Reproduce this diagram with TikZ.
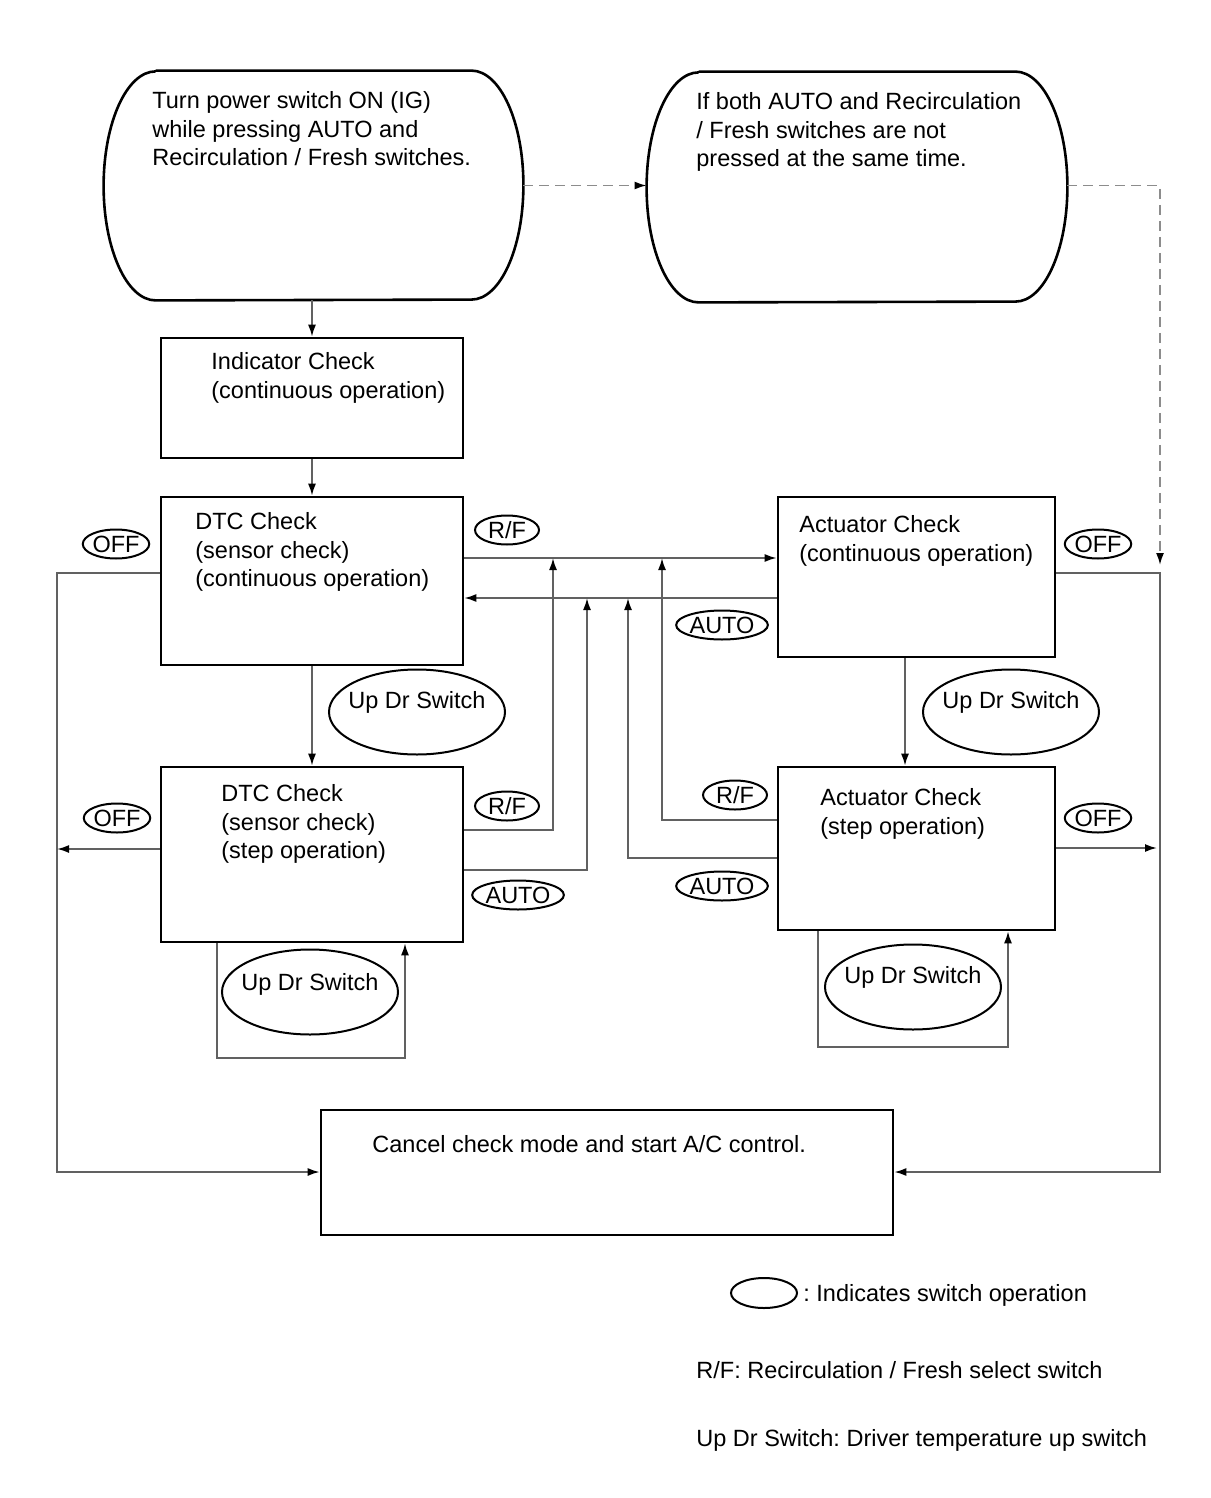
\documentclass[tikz,border=0pt]{standalone}
\usepackage{fontspec}
\setmainfont{Liberation Sans}
\usetikzlibrary{arrows.meta,shapes.geometric,fit}

\begin{document}
\frenchspacing
\begin{tikzpicture}[x=0.5pt,y=-0.5pt,
  font=\fontsize{11.75}{14.25}\selectfont,
  box/.style={draw,line width=1.3pt,inner sep=0pt},
  txt/.style={anchor=north west,inner sep=0pt,align=left},
  conn/.style={draw=black!62,line width=0.9pt,-{Latex[length=6pt,width=4pt,color=black]}},
  dashconn/.style={conn,draw=black!45,dash pattern=on 5pt off 3pt},
  sw/.style={draw,ellipse,line width=1pt,inner sep=0pt,minimum width=32pt,minimum height=14.5pt},
  updr/.style={draw,ellipse,line width=1pt,inner sep=0pt,minimum width=88pt,minimum height=42.5pt}]

\useasboundingbox (0,0) rectangle (1210,1498);

% rounded start / alternative shapes
\node[fit={(104,71) (523,300)},inner sep=0pt] (start) {};
\node[fit={(647,72) (1067,302)},inner sep=0pt] (alt) {};
\draw[line width=1.3pt] ([shift={(52,0)}]start.north west) -- ([shift={(-52,0)}]start.north east)
  arc[start angle=90,end angle=-90,x radius=26pt,y radius=57.25pt]
  -- ([shift={(52,0)}]start.south west)
  arc[start angle=270,end angle=90,x radius=26pt,y radius=57.25pt];
\draw[line width=1.3pt] ([shift={(52,0)}]alt.north west) -- ([shift={(-52,0)}]alt.north east)
  arc[start angle=90,end angle=-90,x radius=26pt,y radius=57.5pt]
  -- ([shift={(52,0)}]alt.south west)
  arc[start angle=270,end angle=90,x radius=26pt,y radius=57.5pt];
\node[txt] at (152,91.5) {Turn power switch ON (IG)\\while pressing AUTO and\\Recirculation / Fresh switches.};
\node[txt] at (696,92.5) {If both AUTO and Recirculation\\/ Fresh switches are not\\pressed at the same time.};

% check boxes
\node[box,fit={(161,338) (463,458)}] (indic) {};
\node[box,fit={(161,497) (463,665)}] (dtc1) {};
\node[box,fit={(161,767) (463,942)}] (dtc2) {};
\node[box,fit={(778,497) (1055,657)}] (act1) {};
\node[box,fit={(778,767) (1055,930)}] (act2) {};
\node[box,fit={(321,1110) (893,1235)}] (cancel) {};

\node[txt] at (211,352.5) {Indicator Check\\(continuous operation)};
\node[txt] at (195,512.5) {DTC Check\\(sensor check)\\(continuous operation)};
\node[txt] at (221,784.5) {DTC Check\\(sensor check)\\(step operation)};
\node[txt] at (799,515.5) {Actuator Check\\(continuous operation)};
\node[txt] at (820,788.5) {Actuator Check\\(step operation)};
\node[txt] at (372,1135.5) {Cancel check mode and start A/C control.};

% switch operations
\node[updr,label={[yshift=5pt]center:Up Dr Switch}] (updr1) at (417,712) {};
\node[updr,label={[yshift=4pt]center:Up Dr Switch}] (updr2) at (310,992) {};
\node[updr,label={[yshift=5pt]center:Up Dr Switch}] (updr3) at (1011,712) {};
\node[updr,label={[yshift=5pt]center:Up Dr Switch}] (updr4) at (913,987) {};

\node[sw] (off1) at (116,544) {OFF};
\node[sw] (off2) at (117,818) {OFF};
\node[sw] (off3) at (1098,544) {OFF};
\node[sw] (off4) at (1098,818) {OFF};
\node[sw] (rf1) at (507,530) {R/F};
\node[sw] (rf2) at (507,806) {R/F};
\node[sw] (rf3) at (735,795) {R/F};
\node[sw] (auto1) at (722,625) {AUTO};
\node[sw] (auto2) at (518,895) {AUTO};
\node[sw] (auto3) at (722,886) {AUTO};

% connectors
\draw[dashconn] (start.east) -- (alt.west |- start.east);
\draw[dashconn] (alt.east |- start.east) -| (1160,565);
\draw[conn] (indic.north |- start.south) -- (indic.north);
\draw[conn] (indic.south) -- (dtc1.north);
\draw[conn] (dtc1.south) -- (dtc2.north);
\draw[conn] (act1.south -| 905,0) -- (act2.north -| 905,0);

\draw[conn] (dtc1.east |- 0,558) -- (act1.west |- 0,558);
\draw[conn] (act1.west |- 0,598) -- (dtc1.east |- 0,598);
\draw[conn] (dtc2.east |- 0,830) -| (553,558);
\draw[conn] (dtc2.east |- 0,870) -| (587,598);
\draw[conn] (act2.west |- 0,820) -| (662,558);
\draw[conn] (act2.west |- 0,858) -| (628,598);

\draw[conn] (dtc2.south -| 217,0) -- (217,1058) -| (dtc2.south -| 405,0);
\draw[conn] (act2.south -| 818,0) -- (818,1047) -| (act2.south -| 1008,0);

\draw[conn] (dtc1.west |- 0,573) -| (57,1172) -- (cancel.west |- 0,1172);
\draw[conn] (dtc2.west |- 0,849) -- (57,849);
\draw[conn] (act1.east |- 0,573) -| (1160,1172) -- (cancel.east |- 0,1172);
\draw[conn] (act2.east |- 0,848) -- (1157,848);

% legend
\node[sw,minimum width=33pt,minimum height=15pt] (key) at (764,1293) {};
\node[anchor=base west,inner sep=0pt] (keytxt) at (803,1301.5) {: Indicates switch operation};
\node[anchor=base west,inner sep=0pt] (rftxt) at (696,1378.5) {R/F: Recirculation / Fresh select switch};
\node[anchor=base west,inner sep=0pt] (updrtxt) at (696,1446.5) {Up Dr Switch: Driver temperature up switch};

\end{tikzpicture}
\end{document}
